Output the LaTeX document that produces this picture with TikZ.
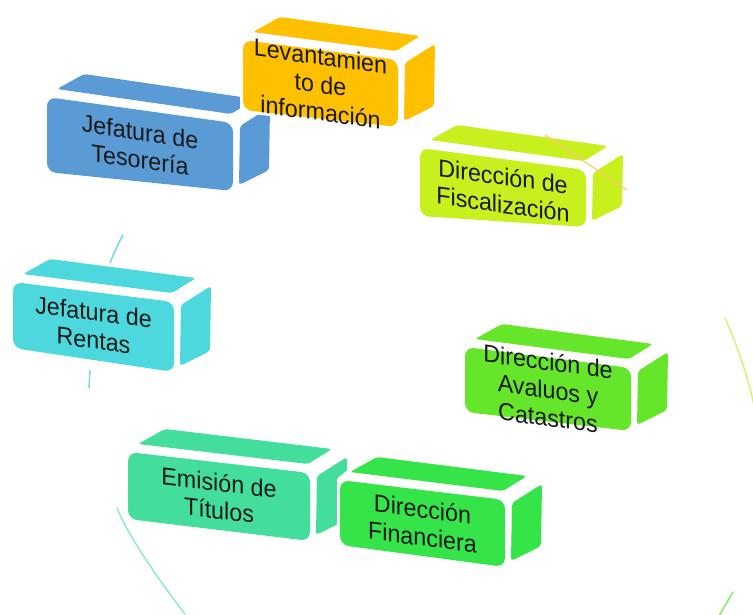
\documentclass[tikz,border=0pt]{standalone}
\usepackage{fontspec}
\setmainfont{Liberation Sans}
\usetikzlibrary{calc}
\definecolor{cOrange}{HTML}{FFC000}
\definecolor{cBlue}{HTML}{5B9BD5}
\definecolor{cLime}{HTML}{C8F01E}
\definecolor{cCyan}{HTML}{4CD8DC}
\definecolor{cGreenA}{HTML}{66E62A}
\definecolor{cGreenB}{HTML}{34E449}
\definecolor{cTeal}{HTML}{44DE9C}
\definecolor{aCyan}{HTML}{72DCE0}
\definecolor{aTeal}{HTML}{8EEBC6}
\definecolor{aLime}{HTML}{D8F270}
\definecolor{aGreen}{HTML}{8FE86A}
\definecolor{aOrange}{HTML}{FFC870}
\tikzset{
  boxtext/.style={align=center, font=\fontsize{24.5}{28}\selectfont, text=black!90, inner sep=0pt, xscale=0.95},
  frontface/.style={rounded corners=9pt},
  sideface/.style={rounded corners=3pt},
  halo/.style={fill=white, draw=white, line width=6pt, line join=round},
  arcline/.style={line width=1.5pt, line cap=round},
}
\newcommand\cubebox[9]{%
  \coordinate (#1-tl) at (#2,#3);
  \coordinate (#1-tr) at ({#2+#4},{#3+#5});
  \coordinate (#1-br) at ({#2+#4},{#3+#5+#7});
  \coordinate (#1-bl) at (#2,{#3+#6});
  \coordinate (#1-tfl) at ($(#1-tl)+(10,-8)$);
  \coordinate (#1-tbl) at ($(#1-tl)+(37,-23)$);
  \coordinate (#1-tbr) at ($(#1-tr)+(22,-24)$);
  \coordinate (#1-tfr) at ($(#1-tr)+(-2,-9)$);
  \coordinate (#1-stl) at ($(#1-tr)+(7,3)$);
  \coordinate (#1-str) at ($(#1-tr)+(37,-16)$);
  \coordinate (#1-sbr) at ($(#1-br)+(36,-21)$);
  \coordinate (#1-sbl) at ($(#1-br)+(6,-6)$);
  \path[halo] (#1-bl) -- (#1-tl) -- (#1-tfl) -- (#1-tbl) -- (#1-tbr) -- (#1-str) -- (#1-sbr) -- (#1-sbl) -- (#1-br) -- cycle;
  \fill[#8, sideface] (#1-tfl) -- (#1-tbl) -- (#1-tbr) -- (#1-tfr) -- cycle;
  \fill[#8, sideface] (#1-stl) -- (#1-str) -- (#1-sbr) -- (#1-sbl) -- cycle;
  \fill[#8, frontface] (#1-tl) -- (#1-tr) -- (#1-br) -- (#1-bl) -- cycle;
  \node[boxtext, yslant={-#5/#4}] (#1) at ($0.25*(#1-tl)+0.25*(#1-tr)+0.25*(#1-br)+0.25*(#1-bl)$) {#9};
}
\begin{document}
\begin{tikzpicture}[x=1pt, y=-1pt]
\useasboundingbox (0,0) rectangle (753,614);
% arc pieces of the cycle
\coordinate (c1a) at (123,235);
\coordinate (c1b) at (110,263);
\coordinate (c2a) at (90,370);
\coordinate (c2b) at (89,388);
\coordinate (t1a) at (117,508);
\coordinate (t1b) at (185,614);
\coordinate (l1a) at (725,318);
\coordinate (l1b) at (755,410);
\coordinate (g1a) at (733,592);
\coordinate (g1b) at (719,616);
\coordinate (o1a) at (545,135);
\coordinate (o1b) at (627,190);
\draw[arcline, aCyan] (c1a) .. controls (118,244) and (114,253) .. (c1b);
\draw[arcline, aCyan] (c2a) -- (c2b);
\draw[arcline, aTeal] (t1a) .. controls (128,535) and (155,575) .. (t1b);
\draw[arcline, aLime] (l1a) .. controls (735,340) and (748,375) .. (l1b);
\draw[arcline, aGreen] (g1a) -- (g1b);
% boxes
\cubebox{rentas}{13}{282}{161}{20}{66}{70}{cCyan}{Jefatura de\\Rentas}
\cubebox{tesoreria}{47}{97}{186}{26}{75}{68}{cBlue}{Jefatura de\\Tesorería}
\cubebox{levantamiento}{243}{40}{155}{20}{70}{67}{cOrange}{Levantamien\\to de\\información}
\cubebox{fiscalizacion}{420}{148}{166}{22}{68}{57}{cLime}{Dirección de\\Fiscalización}
\cubebox{avaluos}{465}{347}{166}{21}{65}{63}{cGreenA}{Dirección de\\Avaluos y\\Catastros}
\cubebox{emision}{128}{452}{182}{21}{67}{68}{cTeal}{Emisión de\\Títulos}
\cubebox{financiera}{340}{480}{165}{20}{65}{67}{cGreenB}{Dirección\\Financiera}
\draw[line width=1.2pt, aOrange] (o1a) -- (o1b);
\end{tikzpicture}
\end{document}
